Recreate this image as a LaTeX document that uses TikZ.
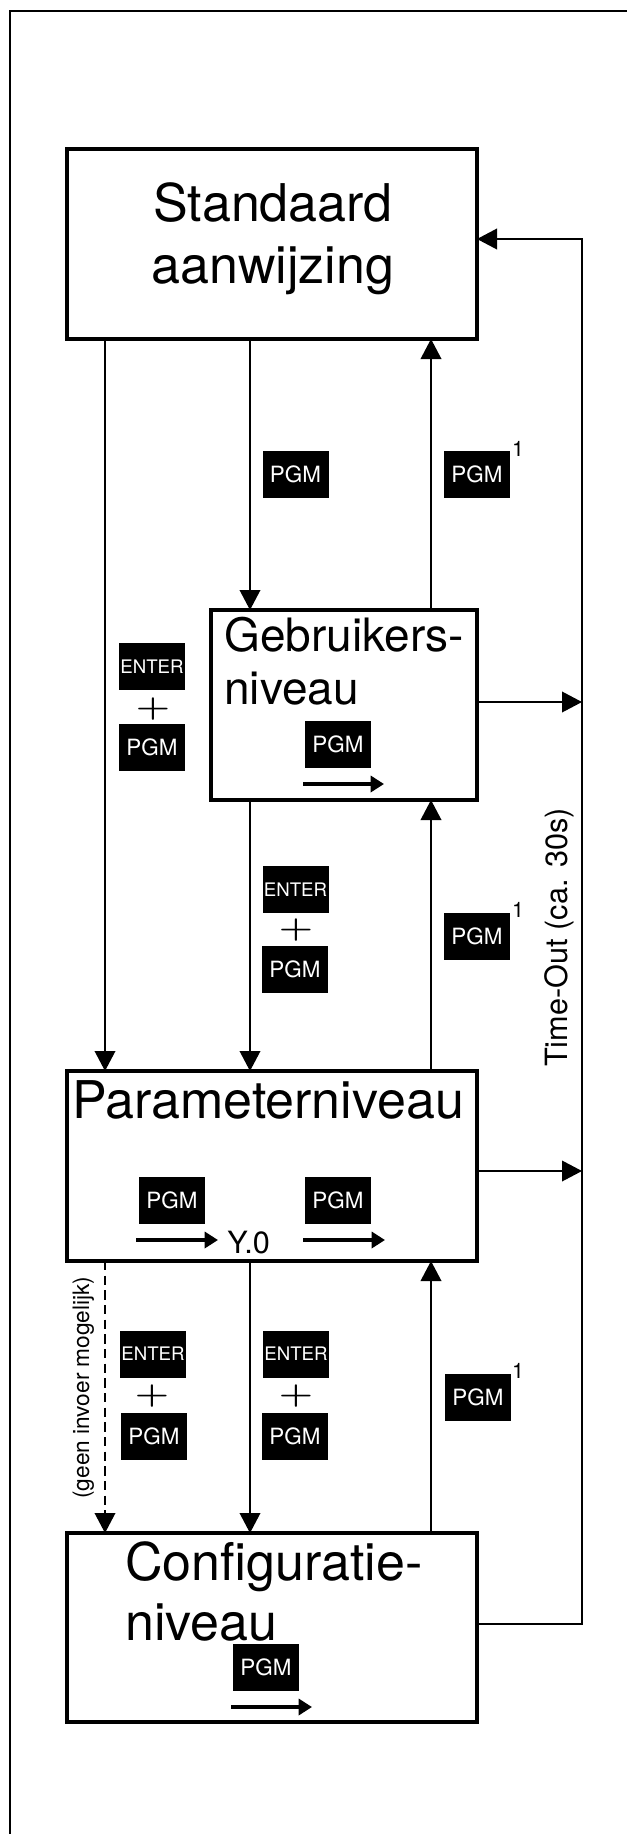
\documentclass[tikz,border=0pt]{standalone}
\usepackage{fontspec}
\newfontfamily\hel{TeX Gyre Heros}
\usetikzlibrary{arrows.meta}
\begin{document}
\begin{tikzpicture}[x=0.75pt,y=-0.75pt,
  box/.style={draw,line width=2.5pt,inner sep=0,outer sep=0,minimum width=307.5pt,minimum height=142.5pt},
  key/.style={fill=black,text=white,inner sep=0,minimum width=49.5pt,minimum height=35.25pt,font=\hel\fontsize{16.8}{17}\selectfont},
  enterkey/.style={key,font=\hel\fontsize{14}{14}\selectfont},
  plussign/.style={inner sep=0,font=\bfseries\fontsize{26}{26}\selectfont},
  supone/.style={inner sep=0,font=\hel\fontsize{16}{16}\selectfont},
  bigtext/.style={inner sep=0,anchor=base west,font=\hel\fontsize{39}{46}\selectfont},
  conn/.style={line width=1.1pt,-{Triangle[length=15pt,width=15.5pt]}},
  press/.style={line width=2.6pt,-{Triangle[length=10pt,width=12pt]}},
]
\useasboundingbox (0,0) rectangle (627,1834);
% frame
\draw[line width=1.7pt] (10,1840) -- (10,11) -- (630,11);

% boxes
\node[box] (std) at (272,244) {};
\node[box,minimum width=199.5pt] (geb) at (344,705) {};
\node[box] (par) at (272,1166) {};
\node[box,minimum height=141.75pt] (cfg) at (272,1627.5) {};

% box texts
\node[bigtext,anchor=base] (stdA) at (273,221) {Standaard};
\node[bigtext,anchor=base] (stdB) at (273,283) {aanwijzing};
\node[bigtext,font=\hel\fontsize{34.5}{40}\selectfont] (gebA) at (224,651) {Gebruikers-};
\node[bigtext,font=\hel\fontsize{34.5}{40}\selectfont] (gebB) at (224,704) {niveau};
\node[bigtext] (parA) at (72,1118) {Parameterniveau};
\node[bigtext] (cfgA) at (125,1580) {Configuratie-};
\node[bigtext] (cfgB) at (125,1640) {niveau};

% columns
\coordinate (c1) at (105,0);
\coordinate (c2) at (250,0);
\coordinate (c3) at (431,0);
\coordinate (tG) at (582,702);
\coordinate (tP) at (582,1171);
\coordinate (tC) at (582,1624);
\coordinate (tS) at (582,239);

% connectors
\draw[conn] (std.south -| c1) -- (par.north -| c1);
\draw[conn] (std.south -| c2) -- (geb.north -| c2);
\draw[conn] (geb.north -| c3) -- (std.south -| c3);
\draw[conn] (geb.south -| c2) -- (par.north -| c2);
\draw[conn] (par.north -| c3) -- (geb.south -| c3);
\draw[conn] (geb.east |- tG) -- (tG);
\draw[conn] (par.east |- tP) -- (tP);
\draw[conn,dash pattern=on 7pt off 4pt] (par.south -| c1) -- (cfg.north -| c1);
\draw[conn] (par.south -| c2) -- (cfg.north -| c2);
\draw[conn] (cfg.north -| c3) -- (par.south -| c3);
\draw[conn] (cfg.east |- tC) -- (tC) -- (tS) -- (std.east |- tS);

% keys between Standaard and Gebruikers
\node[key] (k1) at (295.5,474.5) {PGM};
\node[key] (k2) at (477,474.5) {PGM};
\node[supone] (s2) at (518,449) {1};

% left ENTER + PGM
\node[enterkey] (e1) at (152,666.5) {ENTER};
\node[plussign] (p1) at (153,709) {\scalebox{1.13}[0.86]{+}};
\node[key] (k3) at (152,747.5) {PGM};

% inside Gebruikers
\node[key] (k4) at (338,744.5) {PGM};
\coordinate (ga1) at (303,784); \coordinate (ga2) at (384,784);
\draw[press] (ga1) -- (ga2);

% between Gebruikers and Parameter
\node[enterkey] (e2) at (295.5,889.5) {ENTER};
\node[plussign] (p2) at (296,930) {\scalebox{1.13}[0.86]{+}};
\node[key] (k5) at (295,969.5) {PGM};
\node[key] (k6) at (477,936) {PGM};
\node[supone] (s6) at (518,910) {1};

% inside Parameter
\node[key] (k7) at (172,1200.5) {PGM};
\coordinate (pa1) at (136,1240); \coordinate (pa2) at (218,1240);
\draw[press] (pa1) -- (pa2);
\node[anchor=base west,inner sep=0,font=\hel\fontsize{23}{23}\selectfont] (y0) at (227,1253) {Y.0};
\node[key] (k8) at (338,1200.5) {PGM};
\coordinate (pb1) at (303,1240); \coordinate (pb2) at (385,1240);
\draw[press] (pb1) -- (pb2);

% between Parameter and Configuratie
\node[enterkey] (e3) at (153,1354) {ENTER};
\node[plussign] (p3) at (152,1396) {\scalebox{1.13}[0.86]{+}};
\node[key] (k9) at (154,1436) {PGM};
\node[enterkey] (e4) at (296,1354) {ENTER};
\node[plussign] (p4) at (296,1396) {\scalebox{1.13}[0.86]{+}};
\node[key] (k10) at (295,1436) {PGM};
\node[key] (k11) at (478,1397.5) {PGM};
\node[supone] (s11) at (518,1371) {1};

% inside Configuratie
\node[key] (k12) at (266,1667.5) {PGM};
\coordinate (ca1) at (231,1707); \coordinate (ca2) at (312,1707);
\draw[press] (ca1) -- (ca2);

% rotated labels
\node[rotate=90,anchor=base west,inner sep=0,font=\hel\fontsize{23}{23}\selectfont] (tout) at (567,1067) {Time-Out (ca. 30s)};
\node[rotate=90,anchor=base west,inner sep=0,font=\hel\fontsize{17}{17}\selectfont] (geen) at (89,1499) {(geen invoer mogelijk)};
\end{tikzpicture}
\end{document}
